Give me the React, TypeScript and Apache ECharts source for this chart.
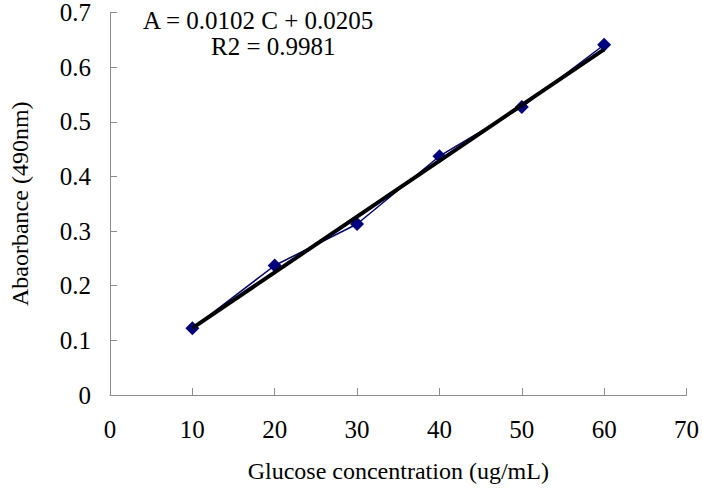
import React, { useEffect, useRef } from "react";
import * as echarts from "echarts";

const concentrations = [10, 20, 30, 40, 50, 60];
const absorbance = [0.122, 0.237, 0.313, 0.437, 0.527, 0.641];
const trendX = [10, 60];
const trendY = [0.1225, 0.6325];
const equationText = "A = 0.0102 C + 0.0205";
const r2Text = "R2 = 0.9981";
const xTitle = "Glucose concentration (ug/mL)";
const yTitle = "Abaorbance (490nm)";

const FONT = "Liberation Serif";

export default function App() {
  const ref = useRef<HTMLDivElement>(null);
  useEffect(() => {
    if (!ref.current) return;
    const chart = echarts.init(ref.current, null, { renderer: "svg" });
    chart.setOption({
      animation: false,
      backgroundColor: "#ffffff",
      textStyle: { fontFamily: FONT },
      grid: { left: 101, right: 13, top: 12, bottom: 101 },
      xAxis: {
        type: "value",
        min: 0,
        max: 70,
        interval: 10,
        name: xTitle,
        nameLocation: "middle",
        nameGap: 64,
        nameTextStyle: { fontFamily: FONT, fontSize: 24, color: "#000" },
        axisLine: { show: true, lineStyle: { color: "#8c8c8c", width: 1 } },
        axisTick: { show: true, inside: true, length: 7, lineStyle: { color: "#8c8c8c" } },
        axisLabel: { fontFamily: FONT, fontSize: 25, color: "#000", margin: 22 },
        splitLine: { show: false },
      },
      yAxis: {
        type: "value",
        min: 0,
        max: 0.7,
        interval: 0.1,
        name: yTitle,
        nameLocation: "middle",
        nameGap: 78,
        nameRotate: 90,
        nameTextStyle: { fontFamily: FONT, fontSize: 24, color: "#000" },
        axisLine: { show: true, lineStyle: { color: "#8c8c8c", width: 1 } },
        axisTick: { show: true, inside: true, length: 7, lineStyle: { color: "#8c8c8c" } },
        axisLabel: { fontFamily: FONT, fontSize: 25, color: "#000", margin: 19 },
        splitLine: { show: false },
      },
      series: [
        {
          type: "line",
          data: concentrations.map((c, i) => [c, absorbance[i]]),
          symbol: "diamond",
          symbolSize: 14,
          lineStyle: { color: "#000080", width: 1.5 },
          itemStyle: { color: "#000080" },
          z: 2,
        },
        {
          type: "line",
          data: trendX.map((c, i) => [c, trendY[i]]),
          symbol: "none",
          lineStyle: { color: "#000000", width: 4 },
          z: 3,
        },
      ],
      graphic: [
        {
          type: "text",
          left: 143,
          top: 8,
          style: { text: equationText, font: "25px Liberation Serif", fill: "#000" },
        },
        {
          type: "text",
          left: 211,
          top: 34,
          style: { text: r2Text, font: "25px Liberation Serif", fill: "#000" },
        },
      ],
    });
    return () => chart.dispose();
  }, []);
  return <div ref={ref} style={{ width: 702, height: 496, position: "absolute", left: 0, top: 0 }} />;
}
